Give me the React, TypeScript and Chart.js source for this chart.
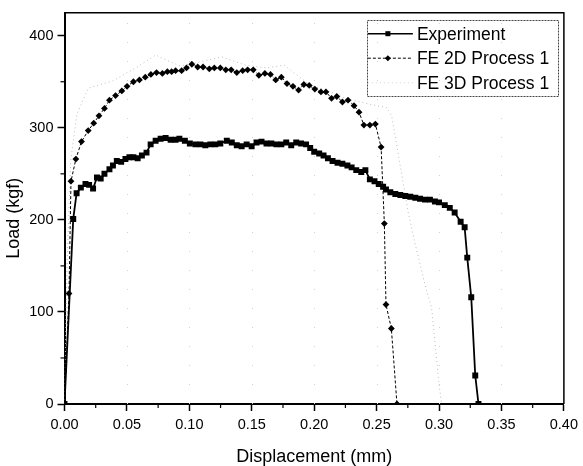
import React, { useEffect, useRef } from 'react';
import { Chart, registerables } from 'chart.js';

Chart.register(...registerables);

const FONT = '"Liberation Sans", Arial, Helvetica, sans-serif';

// Experiment (square markers, solid line)
const expX = [0, 0.007, 0.0097, 0.0131, 0.0168, 0.0197, 0.0229, 0.026, 0.029, 0.032, 0.036, 0.0388, 0.0419, 0.0454, 0.0488, 0.052, 0.0552, 0.0586, 0.062, 0.0657, 0.069, 0.073, 0.077, 0.081, 0.085, 0.089, 0.092, 0.0964, 0.1004, 0.1049, 0.1089, 0.1128, 0.1168, 0.1208, 0.1248, 0.13, 0.134, 0.138, 0.1419, 0.1459, 0.1499, 0.1538, 0.1578, 0.1618, 0.1657, 0.1697, 0.1737, 0.1776, 0.1816, 0.1856, 0.1895, 0.1935, 0.1968, 0.2, 0.204, 0.2075, 0.211, 0.2147, 0.2187, 0.2226, 0.2266, 0.23, 0.2337, 0.2377, 0.241, 0.2446, 0.2483, 0.2517, 0.2552, 0.2575, 0.261, 0.265, 0.269, 0.273, 0.277, 0.281, 0.2848, 0.2887, 0.2927, 0.2967, 0.3, 0.3046, 0.3086, 0.3125, 0.3173, 0.3205, 0.3226, 0.3258, 0.329, 0.3316];
const expY = [0, 201, 229, 235, 239, 238, 234, 246, 245, 250, 255, 259, 264, 263, 266, 268, 268, 267, 270, 273, 282, 286, 288, 289, 287, 287, 288, 286, 283, 282, 282, 281, 282, 282, 283, 286, 284, 281, 280, 282, 280, 284, 285, 283, 283, 282, 282, 284, 281, 284, 283, 282, 278, 274, 272, 270, 267, 264, 262, 261, 259, 257, 254, 252, 254, 244, 242, 239, 236, 233, 230, 228, 227, 226, 225, 224, 223, 222, 222, 220, 219, 216, 213, 208, 198, 192, 159, 116, 31, 0];

// FE 2D Process 1 (diamond markers, dashed line)
const fe2dX = [0, 0.0036, 0.0052, 0.0091, 0.0136, 0.019, 0.0234, 0.0276, 0.032, 0.036, 0.0409, 0.0459, 0.0501, 0.0552, 0.06, 0.0647, 0.0692, 0.0737, 0.0784, 0.0824, 0.0858, 0.089, 0.0938, 0.0977, 0.102, 0.1067, 0.111, 0.116, 0.12, 0.1248, 0.1292, 0.1335, 0.138, 0.1427, 0.1467, 0.1512, 0.1557, 0.1605, 0.165, 0.1692, 0.1737, 0.1782, 0.183, 0.1875, 0.1917, 0.196, 0.2005, 0.2054, 0.2094, 0.2139, 0.2181, 0.2226, 0.2271, 0.2319, 0.2359, 0.2398, 0.2446, 0.249, 0.2536, 0.2562, 0.2575, 0.2618, 0.2663];
const fe2dY = [0, 120, 242, 266, 285, 297, 305, 313, 321, 330, 335, 340, 345, 350, 352, 355, 358, 360, 359, 361, 361, 362, 362, 365, 369, 366, 366, 364, 365, 365, 363, 363, 360, 362, 363, 363, 357, 359, 358, 352, 355, 348, 345, 341, 347, 346, 342, 339, 339, 332, 334, 328, 330, 324, 317, 303, 303, 304, 279, 196, 108, 82, 0];

// FE 3D Process 1 (light grey dotted line)
const fe3dX = [0, 0.002, 0.005, 0.01, 0.019, 0.0387, 0.057, 0.073, 0.084, 0.093, 0.11, 0.126, 0.145, 0.162, 0.176, 0.196, 0.215, 0.227, 0.25, 0.258, 0.262, 0.27, 0.2755, 0.281, 0.29, 0.294, 0.3, 0.302];
const fe3dY = [0, 150, 265, 315, 343, 351, 365, 379, 372, 367, 372, 377, 368, 365, 368, 347, 338, 331, 324, 322, 313, 250, 207, 173, 123, 105, 22, 0];

const xTicks = [0, 0.05, 0.1, 0.15, 0.2, 0.25, 0.3, 0.35, 0.4];
const yTicks = [0, 100, 200, 300, 400];
const legendLabels = ['Experiment', 'FE 2D Process 1', 'FE 3D Process 1'];
const xTitle = 'Displacement (mm)';
const yTitle = 'Load (kgf)';

function toPts(xs: number[], ys: number[]) {
  return xs.map((x, i) => ({ x, y: ys[i] }));
}

export default function App() {
  const ref = useRef<HTMLCanvasElement>(null);

  useEffect(() => {
    if (!ref.current) return;

    const framePlugin = {
      id: 'frame',
      beforeDatasetsDraw(chart: any) {
        const { ctx, chartArea: a, scales } = chart;
        const x = scales.x;
        ctx.save();
        ctx.strokeStyle = '#d2d2d2';
        ctx.lineWidth = 1;
        ctx.setLineDash([1, 18]);
        xTicks.slice(1, -1).forEach((v) => {
          const px = Math.round(x.getPixelForValue(v)) + 0.5;
          ctx.beginPath();
          ctx.moveTo(px, a.bottom);
          ctx.lineTo(px, a.top);
          ctx.stroke();
        });
        ctx.restore();
      },
      afterDraw(chart: any) {
        const { ctx, chartArea: a, scales } = chart;
        const x = scales.x;
        const y = scales.y;
        ctx.save();
        ctx.strokeStyle = '#000';
        ctx.setLineDash([]);
        // top and right frame
        ctx.lineWidth = 1.5;
        ctx.beginPath();
        ctx.moveTo(a.left, a.top);
        ctx.lineTo(a.right, a.top);
        ctx.lineTo(a.right, a.bottom);
        ctx.stroke();
        // minor ticks
        ctx.lineWidth = 1.2;
        for (let i = 0; i < xTicks.length - 1; i++) {
          const px = x.getPixelForValue((xTicks[i] + xTicks[i + 1]) / 2);
          ctx.beginPath();
          ctx.moveTo(px, a.bottom);
          ctx.lineTo(px, a.bottom + 4);
          ctx.stroke();
        }
        for (let i = 0; i < yTicks.length - 1; i++) {
          const py = y.getPixelForValue((yTicks[i] + yTicks[i + 1]) / 2);
          ctx.beginPath();
          ctx.moveTo(a.left, py);
          ctx.lineTo(a.left - 4, py);
          ctx.stroke();
        }
        // axis titles
        ctx.fillStyle = '#000';
        ctx.font = `18px ${FONT}`;
        ctx.textAlign = 'center';
        ctx.textBaseline = 'middle';
        ctx.fillText(xTitle, (a.left + a.right) / 2, a.bottom + 53);
        ctx.save();
        ctx.translate(a.left - 50, (a.top + a.bottom) / 2 + 10);
        ctx.rotate(-Math.PI / 2);
        ctx.fillText(yTitle, 0, 0);
        ctx.restore();

        // legend
        const lx0 = a.right - 197;
        const lx1 = a.right - 6;
        const ly0 = a.top + 7;
        const ly1 = a.top + 83;
        ctx.lineWidth = 1;
        ctx.strokeStyle = '#444';
        ctx.setLineDash([2, 1]);
        ctx.strokeRect(Math.round(lx0) + 0.5, Math.round(ly0) + 0.5, Math.round(lx1 - lx0), Math.round(ly1 - ly0));
        const rows = [ly0 + 14, ly0 + 38.5, ly0 + 63];
        const sx0 = lx0 + 1;
        const sx1 = lx0 + 46;
        const mx = lx0 + 21;
        // row 1
        ctx.strokeStyle = '#000';
        ctx.setLineDash([]);
        ctx.lineWidth = 1.5;
        ctx.beginPath();
        ctx.moveTo(sx0, rows[0]);
        ctx.lineTo(sx1, rows[0]);
        ctx.stroke();
        ctx.fillStyle = '#000';
        ctx.fillRect(mx - 2.5, rows[0] - 2.5, 5, 5);
        // row 2
        ctx.lineWidth = 1;
        ctx.setLineDash([3, 2]);
        ctx.beginPath();
        ctx.moveTo(sx0, rows[1]);
        ctx.lineTo(sx1, rows[1]);
        ctx.stroke();
        ctx.setLineDash([]);
        ctx.beginPath();
        ctx.moveTo(mx, rows[1] - 3);
        ctx.lineTo(mx + 3, rows[1]);
        ctx.lineTo(mx, rows[1] + 3);
        ctx.lineTo(mx - 3, rows[1]);
        ctx.closePath();
        ctx.fill();
        // row 3
        ctx.strokeStyle = '#d6d6d6';
        ctx.setLineDash([1, 3]);
        ctx.beginPath();
        ctx.moveTo(sx0, rows[2]);
        ctx.lineTo(sx1, rows[2]);
        ctx.stroke();
        ctx.setLineDash([]);
        // text
        ctx.fillStyle = '#000';
        ctx.font = `17.5px ${FONT}`;
        ctx.textAlign = 'left';
        ctx.textBaseline = 'middle';
        legendLabels.forEach((t, i) => ctx.fillText(t, lx0 + 50, rows[i] + 1));
        ctx.restore();
      },
    };

    const tickFont = { family: FONT, size: 14.5 };

    const chart = new Chart(ref.current, {
      type: 'line',
      data: {
        datasets: [
          {
            label: legendLabels[0],
            data: toPts(expX, expY),
            borderColor: '#000',
            backgroundColor: '#000',
            borderWidth: 1.8,
            pointStyle: 'rect',
            pointRadius: 4.2,
            pointBorderWidth: 0,
            pointBackgroundColor: '#000',
            tension: 0,
          },
          {
            label: legendLabels[1],
            data: toPts(fe2dX, fe2dY),
            borderColor: '#000',
            backgroundColor: '#000',
            borderWidth: 1,
            borderDash: [3, 2],
            pointStyle: 'rectRot',
            pointRadius: 3.4,
            pointBorderWidth: 0,
            pointBackgroundColor: '#000',
            tension: 0,
          },
          {
            label: legendLabels[2],
            data: toPts(fe3dX, fe3dY),
            borderColor: '#bdbdbd',
            borderWidth: 1,
            borderDash: [1, 3],
            pointRadius: 0,
            tension: 0,
          },
        ],
      } as any,
      options: {
        animation: false,
        responsive: false,
        devicePixelRatio: 1,
        layout: { padding: { top: 9, right: 14, left: 0, bottom: 0 } },
        plugins: { legend: { display: false }, tooltip: { enabled: false } },
        scales: {
          x: {
            type: 'linear',
            min: 0,
            max: 0.4,
            afterFit: (s: any) => {
              s.height = 62;
            },
            afterBuildTicks: (s: any) => {
              s.ticks = xTicks.map((v) => ({ value: v }));
            },
            ticks: {
              callback: (v: any) => Number(v).toFixed(2),
              font: tickFont,
              color: '#000',
              padding: 5,
              maxRotation: 0,
              autoSkip: false,
            },
            grid: { drawOnChartArea: false, drawTicks: true, tickLength: 7, tickColor: '#000', tickWidth: 1.5 },
            border: { display: true, color: '#000', width: 2 },
          },
          y: {
            type: 'linear',
            min: 0,
            max: 425,
            afterFit: (s: any) => {
              s.width = 64.5;
            },
            afterBuildTicks: (s: any) => {
              s.ticks = yTicks.map((v) => ({ value: v }));
            },
            ticks: {
              callback: (v: any) => String(v),
              font: tickFont,
              color: '#000',
              padding: 4,
              autoSkip: false,
            },
            grid: { drawOnChartArea: false, drawTicks: true, tickLength: 7, tickColor: '#000', tickWidth: 1.5 },
            border: { display: true, color: '#000', width: 2 },
          },
        },
      } as any,
      plugins: [framePlugin],
    });

    return () => chart.destroy();
  }, []);

  return (
    <canvas
      ref={ref}
      width={583}
      height={466}
      style={{ position: 'absolute', left: 0, top: 0, width: '583px', height: '466px', background: '#fff' }}
    />
  );
}
